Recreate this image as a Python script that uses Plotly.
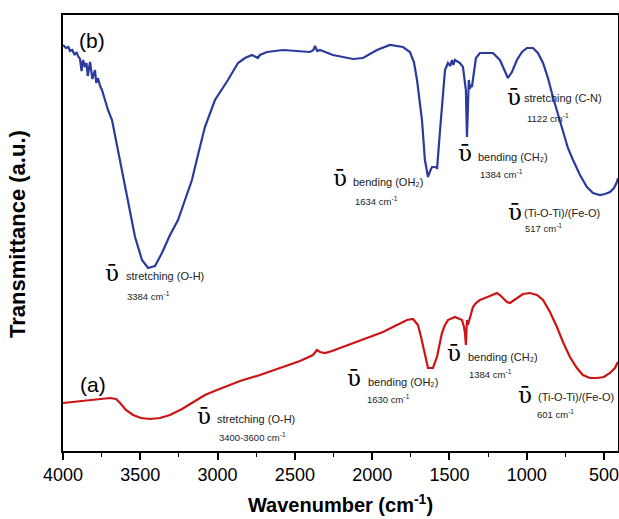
import plotly.graph_objects as go

# ---------------- data ----------------
wn_b = [4000, 3980, 3965, 3955, 3940, 3925, 3912, 3903, 3890, 3880, 3870, 3858, 3848, 3840,
        3825, 3810, 3793, 3785, 3774, 3760, 3748, 3728, 3709, 3683, 3651, 3618, 3580,
        3534, 3489, 3450, 3405, 3360, 3308, 3256, 3211, 3166, 3127, 3082, 3017, 2933,
        2868, 2823, 2778, 2740, 2726, 2681, 2577, 2402, 2380, 2370, 2355, 2338, 2254,
        2124, 2060, 1969, 1885, 1801, 1756, 1730, 1710, 1678, 1659, 1639, 1625, 1613,
        1594, 1580, 1561, 1542, 1529, 1510, 1495, 1484, 1475, 1465, 1432, 1413, 1400,
        1394, 1387, 1381, 1375, 1368, 1362, 1355, 1342, 1329, 1303, 1219, 1174, 1141,
        1122, 1096, 1064, 1031, 999, 960, 928, 895, 863, 831, 798, 766, 734, 701, 656,
        611, 572, 527, 494, 462, 436, 417, 410]
t_b = [406, 403, 404, 400, 401, 396, 399, 395, 392, 380, 391, 384, 388, 375,
       389, 372, 381, 368, 373, 365, 361, 351, 341, 331, 306, 281, 248,
       214, 191, 183, 185, 198, 216, 231, 251, 271, 296, 324, 351, 371,
       388, 393, 396, 393, 396, 399, 401, 399, 401, 405, 400, 401, 396,
       392, 393, 401, 406, 404, 399, 389, 371, 331, 291, 274, 280, 284,
       284, 283, 321, 361, 381, 388, 385, 391, 386, 391, 388, 384, 371,
       361, 314, 361, 371, 362, 366, 364, 381, 393, 398, 398, 391, 379,
       373, 379, 391, 399, 403, 403, 398, 388, 373, 354, 336, 318, 303, 291, 276,
       264, 258, 256, 257, 259, 263, 269, 273]

wn_a = [4000, 3858, 3696, 3657, 3631, 3593, 3547, 3496, 3437, 3373, 3308, 3230, 3159,
        3082, 3004, 2855, 2726, 2597, 2467, 2383, 2357, 2338, 2305, 2260, 2176, 2098,
        2014, 1930, 1853, 1775, 1736, 1704, 1684, 1671, 1652, 1639, 1620, 1607, 1581,
        1562, 1549, 1529, 1510, 1465, 1419, 1406, 1400, 1394, 1387, 1381, 1368, 1348,
        1329, 1303, 1238, 1193, 1174, 1154, 1128, 1109, 1083, 1064, 1025, 980, 934,
        895, 850, 805, 766, 721, 676, 637, 592, 546, 501, 462, 430, 411]
t_a = [48, 50, 53, 52, 48, 41, 36, 33, 32, 33, 36, 42, 49,
       56, 61, 70, 76, 83, 90, 96, 101, 99, 98, 100, 105, 109,
       114, 119, 125, 131, 132, 126, 114, 104, 91, 83, 83, 83, 94,
       108, 118, 126, 131, 134, 131, 124, 118, 106, 131, 126, 134, 144,
       148, 151, 155, 158, 156, 153, 149, 148, 151, 153, 157, 158, 156,
       151, 139, 124, 109, 94, 83, 76, 73, 73, 74, 78, 83, 89]

x_ticks = [4000, 3500, 3000, 2500, 2000, 1500, 1000, 500]
x_tick_labels = ["4000", "3500", "3000", "2500", "2000", "1500", "1000", "500"]

BLUE = "#2C3A9E"
RED = "#CC1414"

# ---------------- figure ----------------
fig = go.Figure()
fig.add_trace(go.Scatter(x=wn_b, y=t_b, mode="lines", line=dict(color=BLUE, width=2.2),
                         showlegend=False, hoverinfo="skip"))
fig.add_trace(go.Scatter(x=wn_a, y=t_a, mode="lines", line=dict(color=RED, width=2.2),
                         showlegend=False, hoverinfo="skip"))

L, R, T, B = 63, 1, 15, 68
W, H = 619, 519
PW, PH = W - L - R, H - T - B


def px(xp, yp):
    return (xp - L) / PW, (H - B - yp) / PH


SANS = "Arial, Liberation Sans, sans-serif"
anns = []


def label(xu, yu, desc, xd, yd, num, xn, yn, dsize=11):
    ax, ay = px(xu, yu)
    anns.append(dict(x=ax, y=ay, xref="paper", yref="paper", text="ῡ", showarrow=False,
                     xanchor="left", yanchor="middle",
                     font=dict(family="DejaVu Serif", size=23, color="black")))
    dx, dy = px(xd, yd)
    anns.append(dict(x=dx, y=dy, xref="paper", yref="paper", text=desc, showarrow=False,
                     xanchor="left", yanchor="middle",
                     font=dict(family=SANS, size=dsize, color="#222")))
    nx, ny = px(xn, yn)
    anns.append(dict(x=nx, y=ny, xref="paper", yref="paper",
                     text=num + " cm<sup>-1</sup>", showarrow=False,
                     xanchor="left", yanchor="middle",
                     font=dict(family=SANS, size=9.5, color="#222")))


label(103, 273, "stretching (O-H)", 124, 276, "3384", 125, 296)
label(331, 178, "bending (OH₂)", 351, 182, "1634", 353, 201)
label(456, 153, "bending (CH₂)", 476, 157, "1384", 478, 174)
label(505, 97, "stretching (C-N)", 522, 98, "1122", 525, 118)
label(506, 212, "(Ti-O-Ti)/(Fe-O)", 522, 213, "517", 523, 228)
label(345, 378, "bending (OH₂)", 366, 382, "1630", 365, 399)
label(445, 353, "bending (CH₂)", 466, 357, "1384", 467, 374)
label(516, 395, "(Ti-O-Ti)/(Fe-O)", 536, 397, "601", 535, 414)
label(195, 416, "stretching (O-H)", 215, 419, "3400-3600", 217, 437)

for txt, xx, yy in [("(b)", 92, 40), ("(a)", 93, 384)]:
    ax, ay = px(xx, yy)
    anns.append(dict(x=ax, y=ay, xref="paper", yref="paper", text=txt, showarrow=False,
                     xanchor="center", yanchor="middle",
                     font=dict(family=SANS, size=21, color="black")))

yx, yy = px(18, 234)
anns.append(dict(x=yx, y=yy, xref="paper", yref="paper", text="<b>Transmittance (a.u.)</b>",
                 showarrow=False, textangle=-90, xanchor="center", yanchor="middle",
                 font=dict(family=SANS, size=22, color="black")))

fig.update_layout(
    width=W, height=H,
    margin=dict(l=L, r=R, t=T, b=B, autoexpand=False),
    paper_bgcolor="white", plot_bgcolor="white",
    annotations=anns,
    xaxis=dict(range=[4000, 410], tickvals=x_ticks, ticktext=x_tick_labels,
               ticks="outside", ticklen=7, tickwidth=1.5, tickcolor="black",
               ticklabeloverflow="allow",
               minor=dict(ticks="outside", ticklen=4, tickwidth=1.3, tickcolor="black", dtick=250),
               showline=True, linecolor="black", linewidth=1.5, mirror=True,
               showgrid=False, zeroline=False, automargin=False,
               tickfont=dict(family=SANS, size=18, color="black"),
               title=dict(text="<b>Wavenumber (cm<sup>-1</sup>)</b>", standoff=14,
                          font=dict(family=SANS, size=20, color="black"))),
    yaxis=dict(range=[0, PH], showticklabels=False, ticks="", automargin=False,
               showline=True, linecolor="black", linewidth=1.5, mirror=True,
               showgrid=False, zeroline=False),
)

fig.write_html("out.html", config={"displayModeBar": False},
               post_script="document.body.style.margin='0px';document.body.style.overflow='hidden';")
